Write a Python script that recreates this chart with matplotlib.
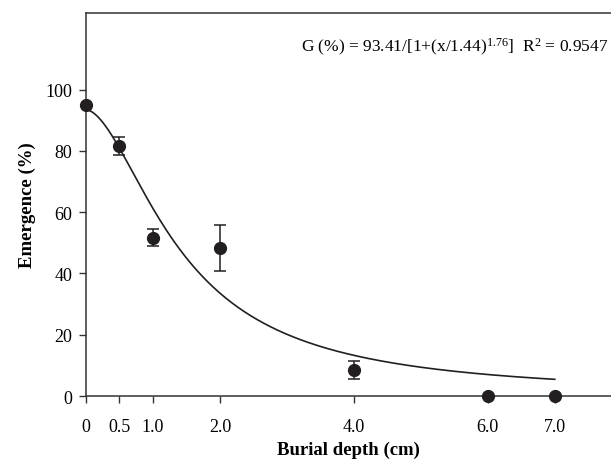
import numpy as np
import matplotlib
matplotlib.use("Agg")
import matplotlib.pyplot as plt

plt.rcParams['font.family'] = ['Liberation Serif', 'DejaVu Serif']
plt.rcParams['mathtext.fontset'] = 'custom'
plt.rcParams['mathtext.rm'] = 'Liberation Serif'
plt.rcParams['mathtext.it'] = 'Liberation Serif:italic'
plt.rcParams['mathtext.bf'] = 'Liberation Serif:bold'

# burial depth (cm) and emergence (%) with error bars
depth = [0, 0.5, 1.0, 2.0, 4.0, 6.0, 7.0]
emergence = [95.0, 81.5, 51.6, 48.3, 8.5, 0.0, 0.0]
err = [0, 3.0, 2.8, 7.6, 3.0, 0, 0]

# fitted model G = a/[1+(x/x50)^b]
a, x50, b = 93.41, 1.44, 1.76

tick_pos = [0, 0.5, 1.0, 2.0, 4.0, 6.0, 7.0]
tick_lab = ["0", "0.5", "1.0", "2.0", "4.0", "6.0", "7.0"]

fig = plt.figure(figsize=(6.11, 4.64), dpi=100)
ax = fig.add_axes([86 / 611, 1 - 397 / 464, 1 - 86 / 611, (397 - 14) / 464])

xs = np.linspace(0, 7, 300)
ax.plot(xs, a / (1 + (xs / x50) ** b), color='#231f20', lw=1.2, zorder=2)

ax.errorbar(depth, emergence, yerr=err, fmt='o', color='#231f20',
            ms=8.5, capsize=4, elinewidth=1.1, capthick=1.1,
            clip_on=False, zorder=3)

ax.set_xlim(0, 7.84)
ax.set_ylim(0, 125)
ax.set_xticks(tick_pos)
ax.set_xticklabels(tick_lab)
ax.set_yticks([0, 20, 40, 60, 80, 100])
ax.tick_params(direction='out', length=5, width=1, labelsize=13,
               color='#333333')
ax.tick_params(axis='x', pad=11)
ax.tick_params(axis='y', pad=5)

ax.spines['right'].set_visible(False)
for s in ['left', 'top', 'bottom']:
    ax.spines[s].set_linewidth(1.1)
    ax.spines[s].set_color('#333333')

ax.set_xlabel("Burial depth (cm)", fontsize=13.5, fontweight='bold', labelpad=4)
ax.set_ylabel("Emergence (%)", fontsize=13.5, fontweight='bold', labelpad=7)

ax.text(7.8, 114,
        r"G (%) = 93.41/[1+(x/1.44)$^{\mathregular{1.76}}$]  R$^{\mathregular{2}}$ = 0.9547",
        ha='right', va='center', fontsize=12.5)

fig.savefig("out.png", dpi=100)
